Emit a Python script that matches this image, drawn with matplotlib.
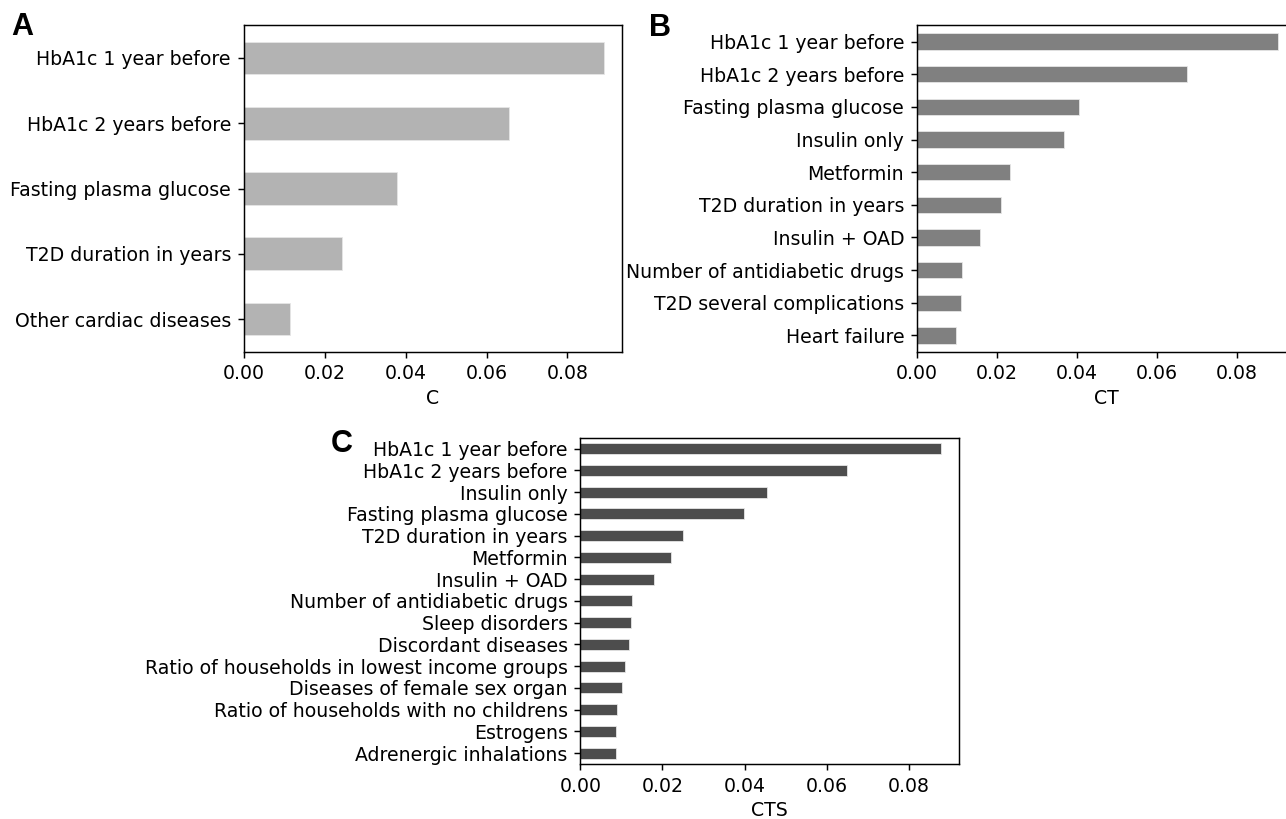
import matplotlib
matplotlib.use("Agg")
import matplotlib.pyplot as plt

# panel A: C
feat_c = ['HbA1c 1 year before', 'HbA1c 2 years before', 'Fasting plasma glucose',
          'T2D duration in years', 'Other cardiac diseases']
imp_c = [0.0891, 0.0655, 0.0379, 0.0242, 0.0115]

# panel B: CT
feat_ct = ['HbA1c 1 year before', 'HbA1c 2 years before', 'Fasting plasma glucose',
           'Insulin only', 'Metformin', 'T2D duration in years', 'Insulin + OAD',
           'Number of antidiabetic drugs', 'T2D several complications', 'Heart failure']
imp_ct = [0.0902, 0.0675, 0.0405, 0.0367, 0.0233, 0.0211, 0.0157, 0.0112, 0.0110, 0.0097]

# panel C: CTS
feat_cts = ['HbA1c 1 year before', 'HbA1c 2 years before', 'Insulin only',
            'Fasting plasma glucose', 'T2D duration in years', 'Metformin',
            'Insulin + OAD', 'Number of antidiabetic drugs', 'Sleep disorders',
            'Discordant diseases', 'Ratio of households in lowest income groups',
            'Diseases of female sex organ', 'Ratio of households with no childrens',
            'Estrogens', 'Adrenergic inhalations']
imp_cts = [0.0879, 0.0650, 0.0455, 0.0398, 0.0250, 0.0220, 0.0180, 0.0127, 0.0123,
           0.0119, 0.0108, 0.0102, 0.0089, 0.0086, 0.0086]

FS = 13.55
plt.rcParams['font.family'] = 'DejaVu Sans'
plt.rcParams['axes.linewidth'] = 1.05
plt.rcParams['xtick.major.size'] = 4.6
plt.rcParams['ytick.major.size'] = 4.6
plt.rcParams['xtick.major.width'] = 1.05
plt.rcParams['ytick.major.width'] = 1.05
plt.rcParams['xtick.major.pad'] = 4.6
plt.rcParams['ytick.major.pad'] = 4.6

W, H = 1286, 819
fig = plt.figure(figsize=(W / 100, H / 100), dpi=100)


def panel(rect, feats, vals, color, xlabel, letter, letter_xy):
    ax = fig.add_axes(rect)
    n = len(vals)
    ys = list(range(n))[::-1]
    ax.barh(ys, vals, height=0.5, color=color, edgecolor='#e6e6e6', linewidth=0.6)
    ax.set_ylim(-0.5, n - 0.5)
    ax.set_xlim(0, max(vals) * 1.05)
    ax.set_yticks(ys)
    ax.set_yticklabels(feats, fontsize=FS)
    ax.set_xticks([0, 0.02, 0.04, 0.06, 0.08])
    ax.set_xticklabels(['0.00', '0.02', '0.04', '0.06', '0.08'], fontsize=FS)
    ax.set_xlabel(xlabel, fontsize=FS, labelpad=4)
    fig.text(letter_xy[0] / W, 1 - letter_xy[1] / H, letter, fontsize=22,
             fontweight='bold', family='Liberation Sans', ha='center', va='center')
    return ax


panel([243.7 / W, 1 - 351.7 / H, 378.6 / W, 326.4 / H], feat_c, imp_c,
      '#b3b3b3', 'C', 'A', (22, 27))
panel([917 / W, 1 - 351.7 / H, 379 / W, 326.4 / H], feat_ct, imp_ct,
      '#808080', 'CT', 'B', (660, 28))
panel([580.3 / W, 1 - 764 / H, 379 / W, 326.3 / H], feat_cts, imp_cts,
      '#4d4d4d', 'CTS', 'C', (342, 444))

fig.savefig('out.png', dpi=100)
